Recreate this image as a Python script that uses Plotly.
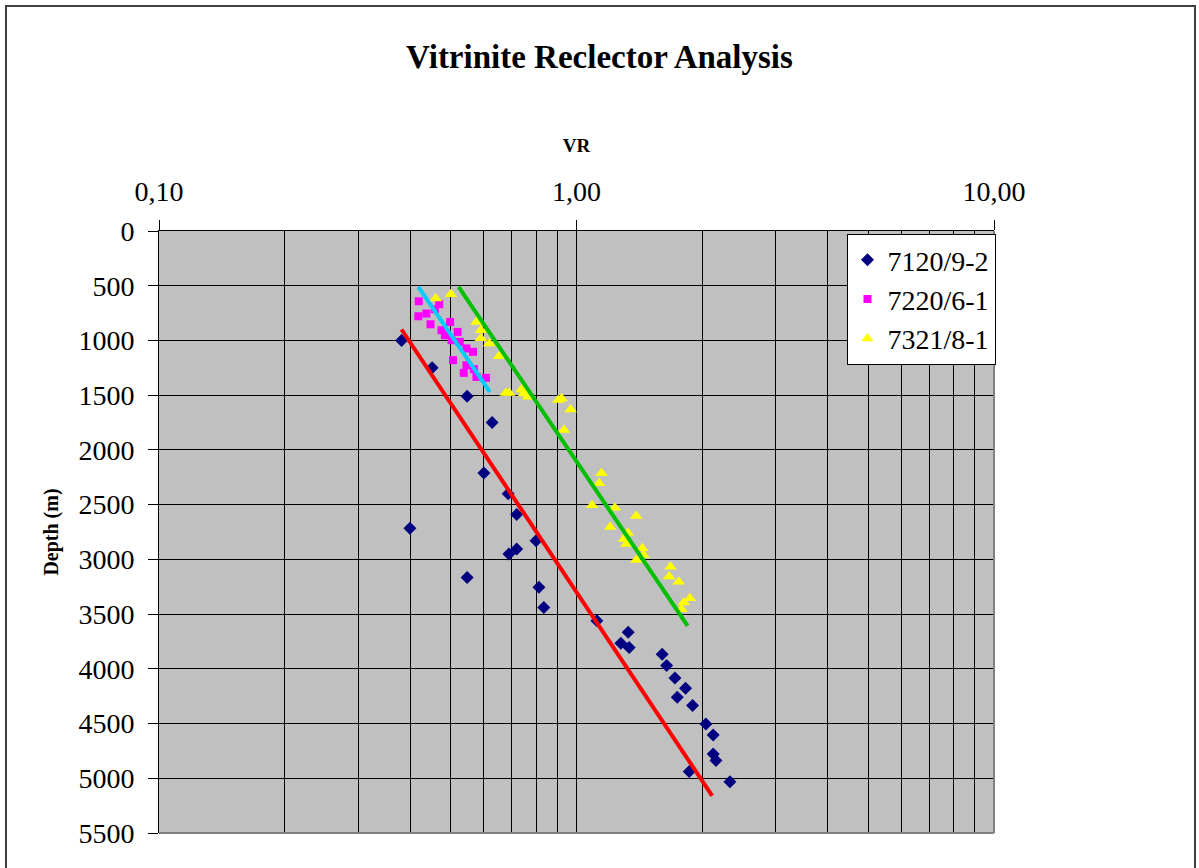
import plotly.graph_objects as go

# ---------------- data ----------------
vr_7120 = [0.381, 0.451, 0.547, 0.628, 0.600, 0.686, 0.719, 0.399, 0.800, 0.719,
           0.689, 0.547, 0.813, 0.835, 1.119, 1.330, 1.277, 1.337, 1.604, 1.644,
           1.721, 1.825, 1.743, 1.897, 2.041, 2.125, 2.125, 2.158, 1.862, 2.331]
depth_7120 = [1000, 1250, 1510, 1750, 2210, 2400, 2590, 2715, 2830, 2905,
              2950, 3165, 3255, 3440, 3560, 3665, 3766, 3805, 3866, 3970,
              4085, 4177, 4259, 4335, 4505, 4605, 4779, 4837, 4938, 5032]

vr_7220 = [0.419, 0.469, 0.418, 0.437, 0.458, 0.447, 0.498, 0.475, 0.484, 0.519,
           0.502, 0.525, 0.545, 0.565, 0.506, 0.545, 0.568, 0.537, 0.576, 0.607]
depth_7220 = [642, 669, 779, 754, 715, 852, 831, 906, 952, 922,
              998, 1013, 1073, 1104, 1180, 1226, 1262, 1296, 1333, 1342]

vr_7321 = [0.460, 0.500, 0.576, 0.590, 0.590, 0.618, 0.652, 0.677, 0.690, 0.739,
           0.748, 0.766, 0.904, 0.921, 0.968, 0.933, 1.148, 1.133, 1.090, 1.236,
           1.390, 1.204, 1.327, 1.299, 1.317, 1.438, 1.448, 1.391, 1.679, 1.667,
           1.757, 1.869, 1.808, 1.785]
depth_7321 = [617, 578, 831, 906, 979, 1028, 1144, 1479, 1479, 1448,
              1484, 1515, 1545, 1530, 1630, 1819, 2214, 2305, 2506, 2528,
              2604, 2704, 2756, 2814, 2860, 2899, 2960, 3006, 3067, 3156,
              3204, 3355, 3395, 3455]

# trend lines (start, end)
trend_7120_vr = [0.381, 2.113]
trend_7120_depth = [900, 5160]
trend_7220_vr = [0.418, 0.620]
trend_7220_depth = [511, 1469]
trend_7321_vr = [0.522, 1.846]
trend_7321_depth = [511, 3608]

series_names = ["7120/9-2", "7220/6-1", "7321/8-1"]
x_major = [0.1, 1, 10]
x_major_text = ["0,10", "1,00", "10,00"]
x_minor = [0.2, 0.3, 0.4, 0.5, 0.6, 0.7, 0.8, 0.9, 2, 3, 4, 5, 6, 7, 8, 9]
y_ticks = list(range(0, 5501, 500))

# ---------------- figure ----------------
FONT = "Liberation Serif, Times New Roman, serif"
W, H = 1199, 868
ML, MR, MT, MB = 159, 205, 231, 35
PW, PH = W - ML - MR, H - MT - MB

fig = go.Figure()

fig.add_trace(go.Scatter(x=vr_7120, y=depth_7120, mode="markers", name=series_names[0],
                         marker=dict(symbol="diamond", size=10, color="#000080",
                                     line=dict(width=0))))
fig.add_trace(go.Scatter(x=vr_7220, y=depth_7220, mode="markers", name=series_names[1],
                         marker=dict(symbol="square", size=8, color="#FF00FF",
                                     line=dict(width=0))))
fig.add_trace(go.Scatter(x=vr_7321, y=depth_7321, mode="markers", name=series_names[2],
                         marker=dict(symbol="triangle-up", size=11, color="#FFFF00",
                                     line=dict(width=0))))

fig.add_trace(go.Scatter(x=trend_7120_vr, y=trend_7120_depth, mode="lines",
                         line=dict(color="#FF0000", width=4), showlegend=False))
fig.add_trace(go.Scatter(x=trend_7220_vr, y=trend_7220_depth, mode="lines",
                         line=dict(color="#00CCFF", width=4), showlegend=False))
fig.add_trace(go.Scatter(x=trend_7321_vr, y=trend_7321_depth, mode="lines",
                         line=dict(color="#00BF00", width=4), showlegend=False))

fig.update_layout(
    width=W, height=H,
    margin=dict(l=ML, r=MR, t=MT, b=MB, pad=0),
    paper_bgcolor="white",
    plot_bgcolor="#C0C0C0",
    font=dict(family=FONT, color="black", size=28),
    title=dict(text="<b>Vitrinite Reclector Analysis</b>",
               font=dict(family=FONT, size=33, color="black"),
               x=0.5, xref="container", xanchor="center",
               y=1 - 56 / H, yref="container", yanchor="middle"),
    showlegend=True,
    legend=dict(x=1.0 + 1.5 / PW, xanchor="right", y=1 - 3 / PH, yanchor="top",
                bgcolor="white", bordercolor="black", borderwidth=1,
                font=dict(family=FONT, size=28, color="black"),
                itemsizing="trace", tracegroupgap=0),
)

fig.update_xaxes(
    type="log", range=[-1, 1], side="top",
    tickmode="array", tickvals=x_major, ticktext=x_major_text,
    ticks="outside", ticklen=10, tickcolor="black", tickwidth=1,
    tickfont=dict(family=FONT, size=28, color="black"),
    ticklabelstandoff=8,
    showgrid=True, gridcolor="black", gridwidth=1,
    minor=dict(tickmode="array", tickvals=x_minor, showgrid=True,
               gridcolor="black", gridwidth=1, ticks=""),
    showline=True, linecolor="black", linewidth=1, mirror=False,
    zeroline=False,
    title=dict(text="<b>VR</b>", font=dict(family=FONT, size=19, color="black"),
               standoff=18),
)

fig.update_yaxes(
    range=[5500, 0],
    tickmode="array", tickvals=y_ticks, ticktext=[str(v) for v in y_ticks],
    ticks="outside", ticklen=10, tickcolor="black", tickwidth=1,
    tickfont=dict(family=FONT, size=28, color="black"),
    ticklabelstandoff=8,
    showgrid=True, gridcolor="black", gridwidth=1,
    showline=True, linecolor="black", linewidth=1, mirror=False,
    zeroline=False,
    title=dict(text="<b>Depth (m)</b>", font=dict(family=FONT, size=20, color="black"),
               standoff=14),
)

# grey plot-area border on right and bottom
fig.add_shape(type="line", xref="paper", yref="paper", x0=1, x1=1, y0=0, y1=1,
              line=dict(color="#808080", width=2), layer="above")
fig.add_shape(type="line", xref="paper", yref="paper", x0=0, x1=1, y0=0, y1=0,
              line=dict(color="#808080", width=2), layer="above")

# outer chart frame
fig.add_shape(type="rect", xref="paper", yref="paper",
              x0=-(ML - 6) / PW, x1=1 + (1195 - (W - MR)) / PW,
              y0=-(MB + 30) / PH, y1=1 + (MT - 6) / PH,
              line=dict(color="#404040", width=2), fillcolor="rgba(0,0,0,0)",
              layer="above")

fig.write_html("out.html")
